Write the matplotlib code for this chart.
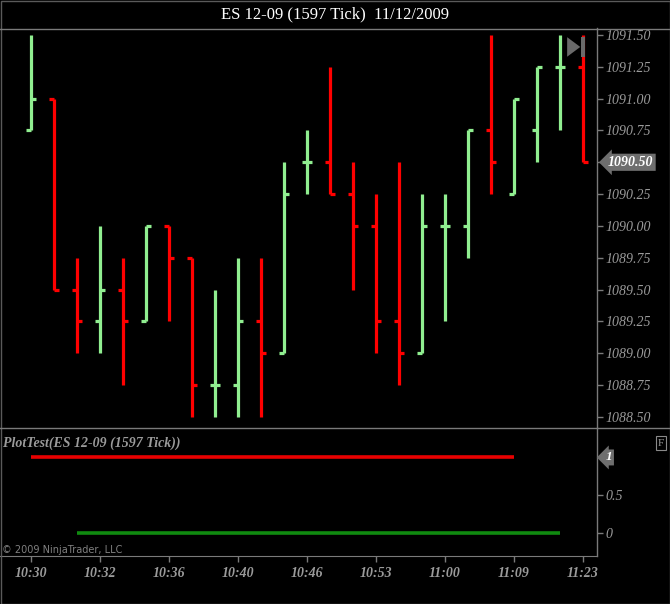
import matplotlib
matplotlib.use("Agg")
import matplotlib.pyplot as plt
import matplotlib.transforms as mtransforms
from matplotlib.patches import Polygon, Rectangle
from matplotlib.lines import Line2D
import numpy as np

nan = np.nan

# OHLC bars, one per 1597-tick bar
opens = [1090.75, 1091.00, 1089.50, 1089.25, 1089.50, 1089.25, 1090.00, 1089.75,
         1088.75, 1088.75, 1089.25, 1089.00, 1090.50, 1090.50, 1090.25, 1090.00,
         1089.25, 1089.00, 1090.00, 1090.00, 1090.75, 1090.25, 1090.75, 1091.25, 1091.25]
highs = [1091.50, 1091.00, 1089.75, 1090.00, 1089.75, 1090.00, 1090.00, 1089.75,
         1089.50, 1089.75, 1089.75, 1090.50, 1090.75, 1091.25, 1090.50, 1090.25,
         1090.50, 1090.25, 1090.25, 1090.75, 1091.50, 1091.00, 1091.25, 1091.50, 1091.50]
lows = [1090.75, 1089.50, 1089.00, 1089.00, 1088.75, 1089.25, 1089.25, 1088.50,
        1088.50, 1088.50, 1088.50, 1089.00, 1090.25, 1090.25, 1089.50, 1089.00,
        1088.75, 1089.00, 1089.25, 1089.75, 1090.25, 1090.25, 1090.50, 1090.75, 1090.50]
closes = [1091.00, 1089.50, 1089.25, 1089.50, 1089.25, 1090.00, 1089.75, 1088.75,
          1088.75, 1089.25, 1089.00, 1090.25, 1090.50, 1090.25, 1090.00, 1089.25,
          1089.00, 1090.00, 1090.00, 1090.75, 1090.50, 1091.00, 1091.25, 1091.25, 1090.50]

# PlotTest indicator series
plot_red = [1, 1, 1, 1, 1, 1, 1, 1, 1, 1, 1, 1, 1, 1, 1, 1, 1, 1, 1, 1, 1, 1, nan, nan, nan]
plot_green = [nan, nan, 0, 0, 0, 0, 0, 0, 0, 0, 0, 0, 0, 0, 0, 0, 0, 0, 0, 0, 0, 0, 0, 0, nan]

time_ticks = [0, 3, 6, 9, 12, 15, 18, 21, 24]
time_labels = ["10:30", "10:32", "10:36", "10:40", "10:46", "10:53", "11:00", "11:09", "11:23"]
price_ticks = [1088.50, 1088.75, 1089.00, 1089.25, 1089.50, 1089.75,
               1090.00, 1090.25, 1090.50, 1090.75, 1091.00, 1091.25, 1091.50]

UP = "#90EE90"
DOWN = "#FF0000"
GRID = "#7a7a7a"
LABEL = "#9a9a9a"
SERIF = ["Liberation Serif", "DejaVu Serif"]

W, H = 670, 604
fig = plt.figure(figsize=(W / 100, H / 100), dpi=100, facecolor="black")


def px_axes(x0, y0, x1, y1):
    # pixel box (top-left origin) -> figure axes
    return fig.add_axes([x0 / W, (H - y1) / H, (x1 - x0) / W, (y1 - y0) / H])


ax = px_axes(0, 28, 597, 427)
ax2 = px_axes(0, 428, 597, 556)

n = len(opens)
x = np.arange(n)
xlim = (-31 / 23, (597 - 31) / 23)

for a in (ax, ax2):
    a.set_facecolor("black")
    a.set_xlim(*xlim)
    for side in ("left", "bottom", "top"):
        a.spines[side].set_visible(False)
    a.spines["right"].set_color(GRID)
    a.spines["right"].set_linewidth(1)
    a.yaxis.tick_right()
    a.tick_params(axis="y", colors=GRID, length=4, width=1, pad=2,
                  labelcolor=LABEL, labelsize=10)

# ---- price panel
colors = [UP if c >= o else DOWN for o, c in zip(opens, closes)]
ax.vlines(x, lows, highs, colors=colors, linewidth=2.3, capstyle="butt")
tick = 0.22
ax.hlines(opens, x - tick, x, colors=colors, linewidth=2.3)
ax.hlines(closes, x, x + tick, colors=colors, linewidth=2.3)
ax.set_ylim(1088.42, 1091.555)
ax.set_xticks([])
ax.set_yticks(price_ticks)
last = closes[-1]
ax.set_yticklabels(["" if p == last else f"{p:.2f}" for p in price_ticks],
                   family=SERIF, style="italic")

# last price marker
trans = mtransforms.blended_transform_factory(ax.transAxes, ax.transData)
ax.annotate(f"{last:.2f}", xy=(1.0, last), xycoords=trans,
            xytext=(8, 0), textcoords="offset points", va="center", ha="left",
            color="white", fontsize=10, fontweight="bold", style="italic", family=SERIF,
            bbox=dict(boxstyle="larrow,pad=0.15", fc="#6e6e6e", ec="none"),
            annotation_clip=False, zorder=5)

# scroll-to-end button
ax.add_patch(Polygon([[0.950, 0.977], [0.950, 0.928], [0.972, 0.9525]],
                     closed=True, transform=ax.transAxes, fc="#6a6a6a", ec="none", zorder=4))
ax.add_patch(Rectangle((0.973, 0.928), 0.007, 0.049, transform=ax.transAxes,
                       fc="#6a6a6a", ec="none", zorder=4))

# ---- indicator panel
ax2.plot(x, plot_red, color="#e80000", linewidth=2.6, solid_capstyle="butt")
ax2.plot(x, plot_green, color="#108a10", linewidth=2.6, solid_capstyle="butt")
ax2.set_ylim(-0.305, 1.39)
ax2.set_yticks([0, 0.5, 1])
ax2.set_yticklabels(["0", "0.5", ""], family=SERIF, style="italic")
ax2.spines["bottom"].set_visible(True)
ax2.spines["bottom"].set_color(GRID)
ax2.set_xticks(time_ticks)
ax2.set_xticklabels(time_labels, family=SERIF, style="italic", fontweight="bold")
ax2.tick_params(axis="x", colors=GRID, length=4, width=1, pad=4,
                labelcolor=LABEL, labelsize=10)

trans2 = mtransforms.blended_transform_factory(ax2.transAxes, ax2.transData)
ax2.annotate("1", xy=(1.0, 1), xycoords=trans2, xytext=(6, 0), textcoords="offset points",
             va="center", ha="left", color="white", fontsize=9.5, fontweight="bold",
             style="italic", family=SERIF,
             bbox=dict(boxstyle="larrow,pad=0.15", fc="#6e6e6e", ec="none"),
             annotation_clip=False, zorder=5)

ax2.text(0.005, 0.88, "PlotTest(ES 12-09 (1597 Tick))", transform=ax2.transAxes,
         color=LABEL, fontsize=10, fontweight="bold", style="italic", family=SERIF,
         ha="left", va="center")
ax2.text(0.004, 0.05, "\u00a9 2009 NinjaTrader, LLC", transform=ax2.transAxes,
         color="#808080", fontsize=7, family=["Liberation Sans Narrow", "DejaVu Sans"],
         ha="left", va="center")

fig.text(661 / W, 1 - 443 / H, "F", color="#9a9a9a", fontsize=8, family=SERIF,
         ha="center", va="center",
         bbox=dict(boxstyle="square,pad=0.2", fc="black", ec="#8a8a8a", lw=0.8))

# title and frame lines
fig.text(0.5, 1 - 14 / H, "ES 12-09 (1597 Tick)  11/12/2009", color="white",
         fontsize=12, family=SERIF, ha="center", va="center")
for yy in (28.5, 427.5):
    fig.add_artist(Line2D([0, 1], [1 - yy / H, 1 - yy / H], color=GRID, lw=1,
                          transform=fig.transFigure))
fig.add_artist(Rectangle((0.5 / W, 0.5 / H), 1 - 1 / W, 1 - 1 / H, transform=fig.transFigure,
                         fill=False, ec="#5a5a5a", lw=1))

fig.savefig("out.png", dpi=100, facecolor="black")
